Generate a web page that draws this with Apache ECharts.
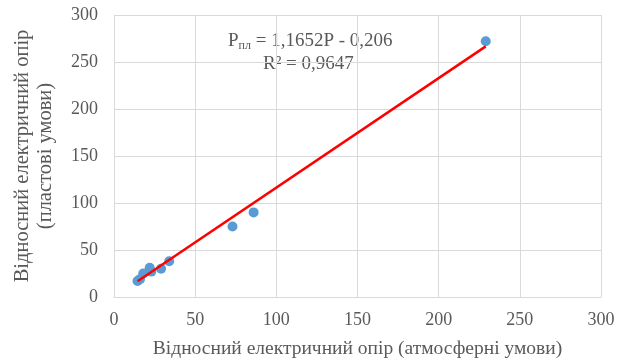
<!DOCTYPE html>
<html>
<head>
<meta charset="utf-8">
<script src="https://cdn.jsdelivr.net/npm/echarts@6/dist/echarts.min.js"></script>
<style>
  html, body { margin: 0; padding: 0; background: #fff; }
  #chart { width: 627px; height: 361px; }
</style>
</head>
<body>
<div id="chart"></div>
<script>
// measured points (atmospheric vs reservoir conditions)
let xValues = [14.5, 16, 18, 22, 23, 29, 34, 73, 86, 229];
let yValues = [17, 19, 25, 31, 27, 30, 38, 75, 90, 272];
// linear trend from the picture's equation
let slope = 1.1652;
let intercept = -0.206;
let axisTicks = [0, 50, 100, 150, 200, 250, 300];

function buildPoints() {
    let pts = [];
    for (let i = 0; i < xValues.length; i++) {
        pts.push([xValues[i], yValues[i]]);
    }
    return pts;
}

function buildTrend() {
    let xMin = Math.min.apply(null, xValues);
    let xMax = Math.max.apply(null, xValues);
    return [[xMin, slope * xMin + intercept], [xMax, slope * xMax + intercept]];
}

let font = '"Liberation Serif", "Times New Roman", serif';
let textColor = '#595959';

let options = {
    animation: false,
    grid: { left: 114, right: 26, top: 15, bottom: 64, outerBoundsMode: 'none', containLabel: false },
    xAxis: {
        type: 'value',
        min: axisTicks[0],
        max: axisTicks[axisTicks.length - 1],
        interval: 50,
        name: 'Відносний електричний опір (атмосферні умови)',
        nameLocation: 'middle',
        nameGap: 42,
        nameTextStyle: { fontFamily: font, fontSize: 19.5, color: textColor },
        axisLine: { show: true, lineStyle: { color: '#d9d9d9' } },
        axisTick: { show: false },
        axisLabel: { fontFamily: font, fontSize: 18, color: textColor, margin: 14 },
        splitLine: { show: true, lineStyle: { color: '#d9d9d9' } }
    },
    yAxis: {
        type: 'value',
        min: axisTicks[0],
        max: axisTicks[axisTicks.length - 1],
        interval: 50,
        name: 'Відносний електричний опір\n(пластові умови)',
        nameLocation: 'middle',
        nameGap: 57,
        nameRotate: 90,
        nameTextStyle: { fontFamily: font, fontSize: 20.5, color: textColor, lineHeight: 23 },
        axisLine: { show: true, lineStyle: { color: '#d9d9d9' } },
        axisTick: { show: false },
        axisLabel: { fontFamily: font, fontSize: 18, color: textColor, margin: 16 },
        splitLine: { show: true, lineStyle: { color: '#d9d9d9' } }
    },
    graphic: [
        {
            type: 'text',
            left: 228,
            top: 32,
            style: {
                text: '{p|P}{s|пл}{p| = 1,1652P - 0,206}',
                rich: {
                    p: { fontFamily: font, fontSize: 19, fill: textColor },
                    s: { fontFamily: font, fontSize: 12, fill: textColor, verticalAlign: 'bottom', padding: [9, 0, 0, 0] }
                }
            }
        },
        {
            type: 'text',
            left: 263,
            top: 55,
            style: {
                text: 'R² = 0,9647',
                font: '19px ' + font,
                fill: textColor
            }
        }
    ],
    series: [
        {
            type: 'line',
            data: buildTrend(),
            symbol: 'none',
            lineStyle: { color: '#ff0000', width: 2.5 },
            z: 3
        },
        {
            type: 'scatter',
            data: buildPoints(),
            symbolSize: 10,
            itemStyle: { color: '#5b9bd5', opacity: 1 },
            z: 2
        }
    ]
};

let chart = echarts.init(document.getElementById('chart'));
chart.setOption(options);
</script>
</body>
</html>
